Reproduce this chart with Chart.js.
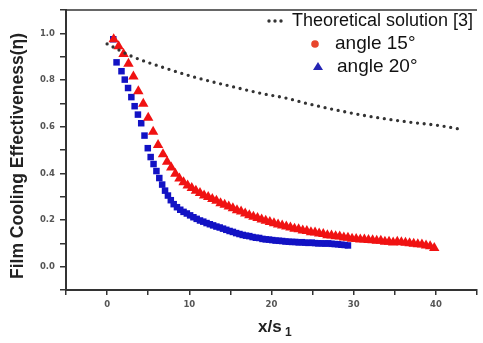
<!DOCTYPE html>
<html>
<head>
<meta charset="utf-8">
<script src="https://cdn.jsdelivr.net/npm/chart.js@4/dist/chart.umd.min.js"></script>
<style>
  html, body { margin: 0; padding: 0; background: #fff; }
  #wrap { width: 483px; height: 343px; }
</style>
</head>
<body>
<div id="wrap"><canvas id="coolingChart" width="483" height="343"></canvas></div>
<script>
// theoretical solution [3]
const theoryX = [0, 3, 7, 11, 15, 19, 21.6, 24.6, 28.5, 32.5, 36.5, 40.4, 43.2];
const theoryY = [0.955, 0.902, 0.852, 0.809, 0.774, 0.741, 0.724, 0.697, 0.667, 0.641, 0.621, 0.605, 0.588];

// red markers (angle 15°)
const redX = [0.8, 1.4, 2.0, 2.6, 3.2, 3.8, 4.4, 5.0, 5.6, 6.2, 6.8, 7.3, 7.8, 8.3, 8.8,
  9.3, 9.8, 10.3, 10.8, 11.3, 11.8, 12.3, 12.8, 13.3, 13.8, 14.3, 14.8, 15.3, 15.8, 16.3, 16.8,
  17.3, 17.8, 18.3, 18.8, 19.3, 19.8, 20.3, 20.8, 21.3, 21.8, 22.3, 22.8, 23.3, 23.8, 24.3, 24.8,
  25.3, 25.8, 26.3, 26.8, 27.3, 27.8, 28.3, 28.8, 29.3, 29.8, 30.3, 30.8, 31.3, 31.8, 32.3, 32.8,
  33.3, 33.8, 34.3, 34.8, 35.3, 35.8, 36.3, 36.8, 37.3, 37.8, 38.3, 38.8, 39.3, 39.8];
const redY = [0.975, 0.945, 0.912, 0.870, 0.815, 0.752, 0.698, 0.638, 0.578, 0.522, 0.482, 0.450, 0.425, 0.398, 0.378,
  0.362, 0.348, 0.337, 0.326, 0.316, 0.305, 0.299, 0.290, 0.283, 0.272, 0.266, 0.258, 0.251, 0.242, 0.237, 0.228,
  0.221, 0.214, 0.209, 0.202, 0.197, 0.192, 0.186, 0.181, 0.176, 0.172, 0.168, 0.163, 0.160, 0.155, 0.153, 0.148,
  0.146, 0.142, 0.140, 0.135, 0.134, 0.130, 0.129, 0.125, 0.124, 0.120, 0.119, 0.117, 0.116, 0.114, 0.113, 0.111,
  0.111, 0.107, 0.107, 0.104, 0.107, 0.105, 0.103, 0.100, 0.098, 0.096, 0.095, 0.091, 0.088, 0.080];

// blue markers (angle 20°)
const blueX = [0.75, 1.15, 1.75, 2.15, 2.55, 2.95, 3.35, 3.75, 4.15, 4.55, 4.95, 5.3, 5.65, 6.0, 6.35,
  6.7, 7.05, 7.4, 7.75, 8.1, 8.5, 8.9, 9.3, 9.7, 10.1, 10.5, 10.9, 11.3, 11.7, 12.1, 12.5, 12.9,
  13.3, 13.7, 14.1, 14.5, 14.9, 15.3, 15.7, 16.1, 16.5, 16.9, 17.3, 17.7, 18.1, 18.5, 18.9, 19.3,
  19.7, 20.1, 20.5, 20.9, 21.3, 21.7, 22.1, 22.5, 22.9, 23.3, 23.7, 24.1, 24.5, 24.9, 25.3, 25.7,
  26.1, 26.5, 26.9, 27.3, 27.7, 28.1, 28.5, 28.9, 29.3];
const blueY = [0.975, 0.876, 0.838, 0.802, 0.766, 0.727, 0.688, 0.652, 0.615, 0.562, 0.508, 0.470, 0.440, 0.410, 0.380,
  0.352, 0.326, 0.305, 0.285, 0.268, 0.255, 0.244, 0.235, 0.228, 0.220, 0.212, 0.205, 0.198, 0.193, 0.187, 0.182, 0.177,
  0.172, 0.168, 0.163, 0.158, 0.153, 0.149, 0.144, 0.140, 0.136, 0.133, 0.131, 0.127, 0.124, 0.123, 0.119, 0.117,
  0.116, 0.114, 0.112, 0.111, 0.110, 0.108, 0.107, 0.106, 0.106, 0.104, 0.105, 0.103, 0.102, 0.103, 0.101, 0.100,
  0.100, 0.099, 0.100, 0.098, 0.097, 0.096, 0.094, 0.093, 0.091];

const xLabels = [0, 10, 20, 30, 40];
const yLabels = [0.0, 0.2, 0.4, 0.6, 0.8, 1.0];

const legendItems = [
  { text: 'Theoretical solution [3]', color: '#333' },
  { text: 'angle 15°', color: '#e8452c' },
  { text: 'angle 20°', color: '#2424b4' }
];

const pts = (xs, ys) => xs.map((x, i) => ({ x: x, y: ys[i] }));
const near = (v, list) => list.some(l => Math.abs(l - v) < 1e-6);

const axisColor = '#333';

const overlay = {
  id: 'overlay',
  afterDraw(chart) {
    const ctx = chart.ctx;
    const a = chart.chartArea;
    ctx.save();
    // top frame line
    ctx.strokeStyle = axisColor;
    ctx.lineWidth = 1.5;
    ctx.beginPath();
    ctx.moveTo(a.left, a.top);
    ctx.lineTo(a.right, a.top);
    ctx.stroke();

    // legend
    ctx.textBaseline = 'middle';
    ctx.fillStyle = '#333';
    for (let i = 0; i < 3; i++) {
      ctx.beginPath();
      ctx.arc(269 + i * 6, 21, 1.7, 0, Math.PI * 2);
      ctx.fill();
    }
    ctx.fillStyle = '#111';
    ctx.font = '18px "Liberation Sans", Arial, sans-serif';
    ctx.fillText(legendItems[0].text, 292, 21);

    ctx.font = '19px "Liberation Sans", Arial, sans-serif';
    ctx.fillStyle = legendItems[1].color;
    ctx.beginPath();
    ctx.arc(315, 44, 3.8, 0, Math.PI * 2);
    ctx.fill();
    ctx.fillStyle = '#111';
    ctx.fillText(legendItems[1].text, 335, 44);

    ctx.fillStyle = legendItems[2].color;
    ctx.beginPath();
    ctx.moveTo(318, 62);
    ctx.lineTo(323, 70);
    ctx.lineTo(313, 70);
    ctx.closePath();
    ctx.fill();
    ctx.fillStyle = '#111';
    ctx.fillText(legendItems[2].text, 337, 67);

    // axis titles
    ctx.fillStyle = '#222';
    ctx.font = 'bold 17.5px "Liberation Sans", Arial, sans-serif';
    ctx.textAlign = 'center';
    ctx.save();
    ctx.translate(18, 156);
    ctx.rotate(-Math.PI / 2);
    ctx.fillText('Film Cooling Effectiveness(η)', 0, 0);
    ctx.restore();

    ctx.font = 'bold 17px "Liberation Sans", Arial, sans-serif';
    ctx.textAlign = 'left';
    ctx.fillText('x/s', 258, 327);
    ctx.font = 'bold 12px "Liberation Sans", Arial, sans-serif';
    ctx.fillText('1', 285, 333);
    ctx.restore();
  }
};

const config = {
  type: 'scatter',
  data: {
    datasets: [
      {
        label: legendItems[0].text,
        data: pts(theoryX, theoryY),
        showLine: true,
        borderColor: '#333',
        borderWidth: 3.3,
        borderDash: [0, 6.7],
        borderCapStyle: 'round',
        cubicInterpolationMode: 'monotone',
        pointRadius: 0
      },
      {
        label: legendItems[1].text,
        data: pts(redX, redY),
        pointStyle: 'triangle',
        pointRadius: 6,
        backgroundColor: '#f01212',
        borderColor: '#f01212',
        borderWidth: 0
      },
      {
        label: legendItems[2].text,
        data: pts(blueX, blueY),
        pointStyle: 'rect',
        pointRadius: 4.6,
        backgroundColor: '#1212c4',
        borderColor: '#1212c4',
        borderWidth: 0
      }
    ]
  },
  options: {
    responsive: false,
    animation: false,
    layout: { padding: { top: 8, right: 1, left: 0, bottom: 0 } },
    plugins: {
      legend: { display: false },
      tooltip: { enabled: false }
    },
    scales: {
      x: {
        type: 'linear',
        min: -5,
        max: 45,
        afterFit(scale) { scale.height = 53; },
        border: { color: axisColor, width: 2 },
        grid: { drawOnChartArea: false, drawTicks: true, tickLength: 5, color: axisColor, lineWidth: 1.5 },
        ticks: {
          stepSize: 5,
          padding: 5,
          maxRotation: 0,
          autoSkip: false,
          color: '#555',
          font: { family: '"DejaVu Sans", sans-serif', size: 8.5, weight: 'bold' },
          callback: v => near(v, xLabels) ? String(v) : ''
        }
      },
      y: {
        type: 'linear',
        min: -0.1,
        max: 1.1,
        afterFit(scale) { scale.width = 66; },
        border: { color: axisColor, width: 2 },
        grid: { drawOnChartArea: false, drawTicks: true, tickLength: 6, color: axisColor, lineWidth: 1.5 },
        ticks: {
          stepSize: 0.1,
          padding: 5,
          autoSkip: false,
          color: '#555',
          font: { family: '"DejaVu Sans", sans-serif', size: 8.5, weight: 'bold' },
          callback: v => near(v, yLabels) ? v.toFixed(1) : ''
        }
      }
    }
  },
  plugins: [overlay]
};

const chart = new Chart(document.getElementById('coolingChart'), config);
</script>
</body>
</html>
